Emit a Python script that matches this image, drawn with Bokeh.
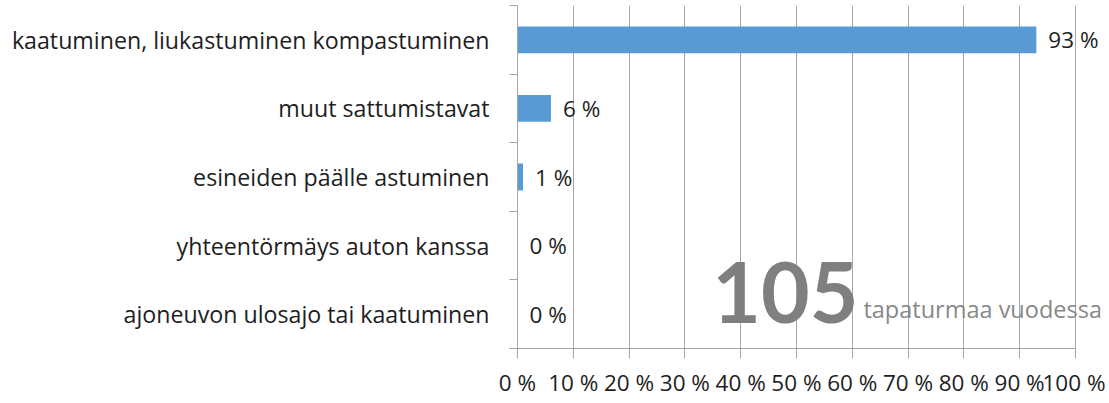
from bokeh.plotting import figure
from bokeh.models import FixedTicker, Range1d, Label, LabelSet, ColumnDataSource
from bokeh.core.properties import value
from bokeh.embed import file_html
from bokeh.resources import INLINE

categories = [
    "kaatuminen, liukastuminen kompastuminen",
    "muut sattumistavat",
    "esineiden päälle astuminen",
    "yhteentörmäys auton kanssa",
    "ajoneuvon ulosajo tai kaatuminen",
]
values = [93, 6, 1, 0, 0]
value_labels = ["93 %", "6 %", "1 %", "0 %", "0 %"]
x_ticks = [0, 10, 20, 30, 40, 50, 60, 70, 80, 90, 100]
x_tick_labels = [f"{t} %" for t in x_ticks]
total = "105"
total_caption = "tapaturmaa vuodessa"

FONT = "Open Sans"
FS = "22.5px"
n = len(categories)
ypos = [n - i - 0.5 for i in range(n)]

src = ColumnDataSource(dict(y=ypos, v=values, lab=value_labels))

p = figure(width=1105, height=400, output_backend="svg", toolbar_location=None,
           x_range=Range1d(0, 104.5), y_range=Range1d(0, n),
           min_border_left=517, min_border_right=5, min_border_top=5, min_border_bottom=43)
p.outline_line_color = None
p.ygrid.grid_line_color = None
p.xgrid.grid_line_color = "#a6a6a6"
p.xgrid.grid_line_width = 1

p.hbar(y="y", right="v", left=0, height=0.39, source=src, fill_color="#5b9bd5", line_color=None)
p.add_layout(LabelSet(x="v", y="y", text="lab", source=src, x_offset=12, text_align="left",
                      text_baseline="middle", text_font_size=value(FS), text_color=value("#1e1e1e"),
                      text_font=value(FONT)))

p.xaxis.ticker = FixedTicker(ticks=x_ticks)
p.xaxis.bounds = (0, 100)
p.xaxis.major_label_overrides = {t: l for t, l in zip(x_ticks, x_tick_labels)}
p.xaxis.major_tick_in = 0
p.xaxis.major_tick_out = 10
p.xaxis.minor_tick_line_color = None
p.xaxis.axis_line_color = "#a6a6a6"
p.xaxis.major_tick_line_color = "#a6a6a6"
p.xaxis.major_label_text_font = FONT
p.xaxis.major_label_text_font_size = FS
p.xaxis.major_label_text_color = "#1e1e1e"
p.xaxis.major_label_standoff = 8

p.yaxis.ticker = FixedTicker(ticks=ypos, minor_ticks=list(range(n + 1)))
p.yaxis.major_label_overrides = {y: c for y, c in zip(ypos, categories)}
p.yaxis.major_tick_line_color = None
p.yaxis.major_tick_in = 0
p.yaxis.major_tick_out = 0
p.yaxis.minor_tick_in = 0
p.yaxis.minor_tick_out = 8
p.yaxis.minor_tick_line_color = "#a6a6a6"
p.yaxis.axis_line_color = "#a6a6a6"
p.yaxis.major_label_text_font = FONT
p.yaxis.major_label_text_font_size = "23.2px"
p.yaxis.major_label_text_color = "#1e1e1e"
p.yaxis.major_label_standoff = 20

p.add_layout(Label(x=34.9, y=0.81, text=total, text_font="Lato", text_font_style="bold",
                   text_font_size="84px", text_color="#7f7f7f", text_baseline="alphabetic"))
p.add_layout(Label(x=62.0, y=0.57, text=total_caption, text_font=FONT,
                   text_font_size="23.5px", text_color="#888888", text_baseline="alphabetic"))

open("out.html", "w").write(file_html(p, INLINE))
